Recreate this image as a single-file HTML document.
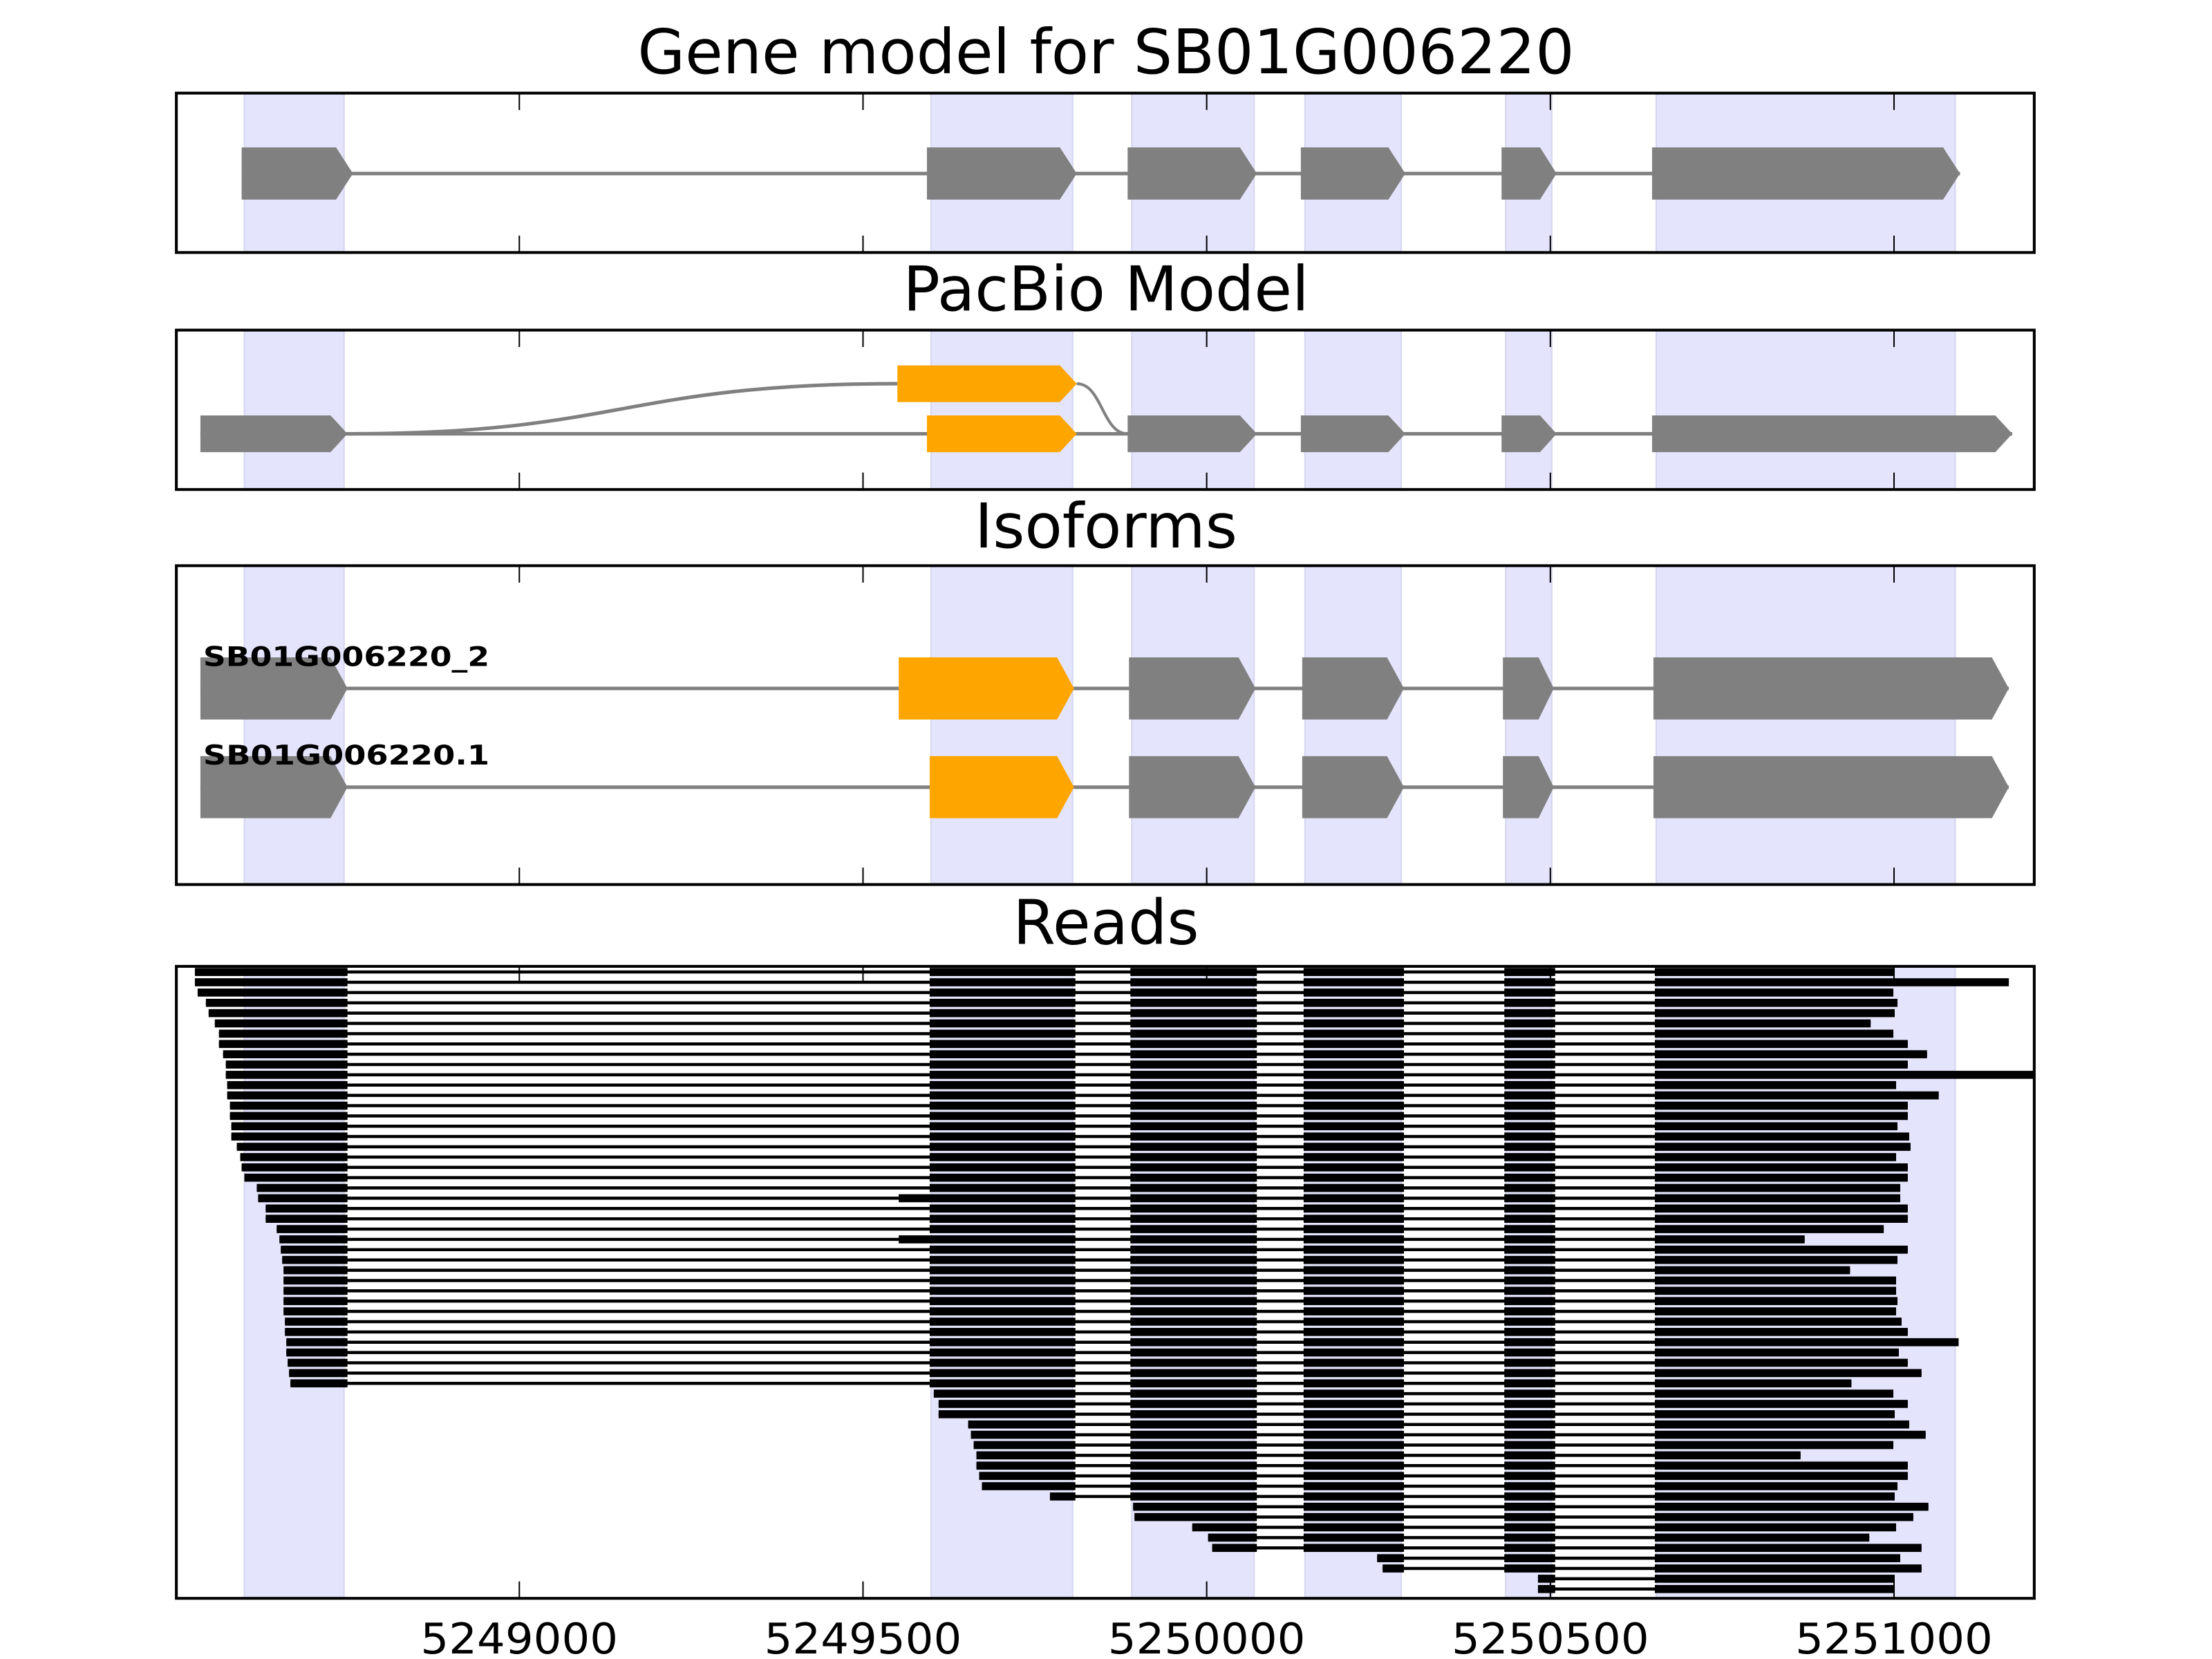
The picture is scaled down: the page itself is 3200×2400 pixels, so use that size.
<!DOCTYPE html>
<html><head><meta charset="utf-8"><style>html,body{margin:0;padding:0;background:#fff}svg{display:block}</style></head>
<body>
<svg id="fig" xmlns="http://www.w3.org/2000/svg" width="3200" height="2400" viewBox="0 0 1568 1176">
<rect x="0" y="0" width="1568" height="1176" fill="#fff"/>
<g id="root"></g>
</svg>
<script>
// ---- data ----
const xTicks = [5249000, 5249500, 5250000, 5250500, 5251000];
const xTickLabels = ["5249000", "5249500", "5250000", "5250500", "5251000"];
const shadeStarts = [5248600, 5249599, 5249891, 5250143, 5250435, 5250654];
const shadeEnds   = [5248745, 5249805, 5250069, 5250283, 5250502, 5251089];
const geneExonStarts = [5248596, 5249593, 5249885, 5250137, 5250429, 5250648];
const geneExonEnds   = [5248758, 5249811, 5250073, 5250289, 5250509, 5251096];
const pbBottomStarts = [5248536, 5249593, 5249885, 5250137, 5250429, 5250648];
const pbBottomEnds   = [5248750, 5249811, 5250073, 5250289, 5250509, 5251172];
const pbBottomColors = ["gray", "orange", "gray", "gray", "gray", "gray"];
const pbTopStart = 5249550, pbTopEnd = 5249811;
const isoNames = ["SB01G006220_2", "SB01G006220.1"];
const iso1Starts = [5248536, 5249552, 5249887, 5250139, 5250431, 5250650];
const iso2Starts = [5248536, 5249597, 5249887, 5250139, 5250431, 5250650];
const isoEnds    = [5248750, 5249807, 5250071, 5250287, 5250505, 5251167];
const isoColors  = ["gray", "orange", "gray", "gray", "gray", "gray"];
const readExonStarts = [0, 5249597, 5249889, 5250141, 5250433, 5250652];
const readExonEnds   = [5248750, 5249809, 5250073, 5250287, 5250507, 0];
const altExon2Start = 5249552;
const readStarts = [5248528,5248528,5248532,5248544,5248548,5248557,5248563,5248563,5248569,5248573,
 5248573,5248575,5248575,5248579,5248579,5248581,5248581,5248589,5248594,5248596,
 5248600,5248618,5248620,5248631,5248631,5248647,5248651,5248653,5248655,5248657,
 5248657,5248657,5248657,5248657,5248659,5248659,5248661,5248661,5248663,5248665,
 5248667,5249603,5249610,5249610,5249653,5249657,5249661,5249665,5249665,5249669,
 5249673,5249772,5249893,5249895,5249979,5250002,5250008,5250248,5250256,5250482,5250482];
const readEnds = [5250999,5251167,5250999,5251005,5251001,5250966,5250999,5251020,5251048,5251020,
 5251204,5251003,5251065,5251020,5251020,5251005,5251022,5251024,5251003,5251020,
 5251020,5251009,5251009,5251020,5251020,5250985,5250870,5251020,5251005,5250936,
 5251003,5251003,5251005,5251003,5251011,5251020,5251094,5251007,5251020,5251040,
 5250938,5250999,5251020,5251001,5251022,5251046,5250999,5250864,5251020,5251020,
 5251005,5251001,5251050,5251028,5251003,5250964,5251040,5251009,5251040,5251001,5251001];
const readAlt = [22, 26];

// ---- axes ----
const L = 125, R = 1442;
const D0 = 5248501, D1 = 5251204;
function xs(v){ return L + (v - D0) * (R - L) / (D1 - D0); }
const NS = "http://www.w3.org/2000/svg";
const root = document.getElementById('root');
function el(tag, attrs, parent){ const e = document.createElementNS(NS, tag); for (const k in attrs) e.setAttribute(k, attrs[k]); (parent||root).appendChild(e); return e; }
const COL = {gray:"#808080", orange:"#ffa500"};

const panels = [
  {name:"gene-model", title:"Gene model for SB01G006220", top:66, bottom:179, ty:52},
  {name:"pacbio-model", title:"PacBio Model", top:234, bottom:347, ty:220},
  {name:"isoforms", title:"Isoforms", top:401, bottom:627, ty:388},
  {name:"reads", title:"Reads", top:685, bottom:1133, ty:669}
];

function arrowExon(s, e, yc, h, color, parent, name){
  const x0 = xs(s), x1 = xs(e);
  const tip = Math.min(12, (x1 - x0) * 0.3);
  const p = el('polygon', {points:`${x0},${yc-h/2} ${x1-tip},${yc-h/2} ${x1},${yc} ${x1-tip},${yc+h/2} ${x0},${yc+h/2}`, fill:COL[color]}, parent);
  
  
}

panels.forEach((p, pi) => {
  const g = el('g', {});
  
  
  const clipId = 'clip' + pi;
  const cp = el('clipPath', {id:clipId}, g);
  el('rect', {x:L, y:p.top, width:R-L, height:p.bottom-p.top}, cp);
  const inner = el('g', {'clip-path':`url(#${clipId})`}, g);
  for (let i = 0; i < shadeStarts.length; i++){
    const r = el('rect', {x:xs(shadeStarts[i]), y:p.top, width:xs(shadeEnds[i])-xs(shadeStarts[i]), height:p.bottom-p.top, fill:"#e4e4fc", stroke:"#d6d6f0", 'stroke-width':1}, inner);
    
    
  }
  p.inner = inner; p.g = g;
});

// panel 1
(function(){
  const g = panels[0].inner, yc = 123;
  el('line', {x1:xs(geneExonStarts[0]), x2:xs(geneExonEnds[geneExonEnds.length-1]), y1:yc, y2:yc, stroke:"#808080", 'stroke-width':2.5}, g);
  for (let i = 0; i < geneExonStarts.length; i++) arrowExon(geneExonStarts[i], geneExonEnds[i], yc, 37, "gray", g, 'gene-exon');
})();
// panel 2
(function(){
  const g = panels[1].inner, yb = 307.5, yt = 272;
  el('line', {x1:xs(pbBottomStarts[0]), x2:xs(pbBottomEnds[5]), y1:yb, y2:yb, stroke:"#808080", 'stroke-width':2.5}, g);
  const a = xs(pbBottomEnds[0]), b = xs(pbTopStart), m = (a+b)/2;
  el('path', {d:`M${a},${yb} C${m},${yb} ${m},${yt} ${b},${yt}`, fill:"none", stroke:"#808080", 'stroke-width':2.5}, g);
  const c = xs(pbTopEnd), d = xs(pbBottomStarts[2]), m2 = (c+d)/2;
  el('path', {d:`M${c},${yt} C${m2},${yt} ${m2},${yb} ${d},${yb}`, fill:"none", stroke:"#808080", 'stroke-width':2}, g);
  for (let i = 0; i < pbBottomStarts.length; i++) arrowExon(pbBottomStarts[i], pbBottomEnds[i], yb, 26, pbBottomColors[i], g, 'pacbio-exon');
  arrowExon(pbTopStart, pbTopEnd, yt, 26, "orange", g, 'pacbio-alt-exon');
})();
// panel 3
(function(){
  const g = panels[2].inner;
  const rows = [iso1Starts, iso2Starts], ys = [488, 558];
  rows.forEach((st, r) => {
    const yc = ys[r];
    el('line', {x1:xs(st[0]), x2:xs(isoEnds[5]), y1:yc, y2:yc, stroke:"#808080", 'stroke-width':2.5}, g);
    for (let i = 0; i < st.length; i++) arrowExon(st[i], isoEnds[i], yc, 44, isoColors[i], g, 'isoform-exon');
    const t = el('text', {x:144, y:yc-16, 'font-family':'"DejaVu Sans","Liberation Sans",sans-serif', 'font-weight':'bold', 'font-size':19, textLength:203, lengthAdjust:'spacingAndGlyphs', fill:'#000'}, panels[2].g);
    t.textContent = isoNames[r];
    
    
  });
})();
// panel 4 reads
(function(){
  const g = panels[3].inner;
  for (let i = 0; i < readStarts.length; i++){
    const yc = 689 + i * 7.29;
    const s = readStarts[i], e = readEnds[i];
    const rg = el('g', {}, g);
    
    
    el('line', {x1:xs(s), x2:xs(e), y1:yc, y2:yc, stroke:"#000", 'stroke-width':2.2}, rg);
    for (let k = 0; k < readExonStarts.length; k++){
      let es = k === 0 ? s : readExonStarts[k];
      if (k === 1 && readAlt.includes(i)) es = altExon2Start;
      let ee = k === readExonStarts.length - 1 ? e : readExonEnds[k];
      if (ee <= s || es >= e) continue;
      es = Math.max(es, s); ee = Math.min(ee, e);
      el('rect', {x:xs(es), y:yc-2.85, width:xs(ee)-xs(es), height:5.7, fill:"#000"}, rg);
    }
  }
})();

// frames, ticks, titles
panels.forEach((p) => {
  xTicks.forEach(v => {
    el('line', {x1:xs(v), x2:xs(v), y1:p.top, y2:p.top+12, stroke:"#000", 'stroke-width':1}, p.g);
    el('line', {x1:xs(v), x2:xs(v), y1:p.bottom, y2:p.bottom-12, stroke:"#000", 'stroke-width':1}, p.g);
  });
  const f = el('rect', {x:L, y:p.top, width:R-L, height:p.bottom-p.top, fill:"none", stroke:"#000", 'stroke-width':2}, p.g);
  
  
  const t = el('text', {x:784, y:p.ty, 'text-anchor':'middle', 'font-family':'"DejaVu Sans","Liberation Sans",sans-serif', 'font-size':43.5, fill:'#000'}, p.g);
  t.textContent = p.title;
  
  
});
xTicks.forEach((v, i) => {
  const t = el('text', {x:xs(v), y:1172, 'text-anchor':'middle', 'font-family':'"DejaVu Sans","Liberation Sans",sans-serif', 'font-size':30, textLength:140, lengthAdjust:'spacingAndGlyphs', fill:'#000'});
  t.textContent = xTickLabels[i];
  
  
});
</script>
</body></html>
